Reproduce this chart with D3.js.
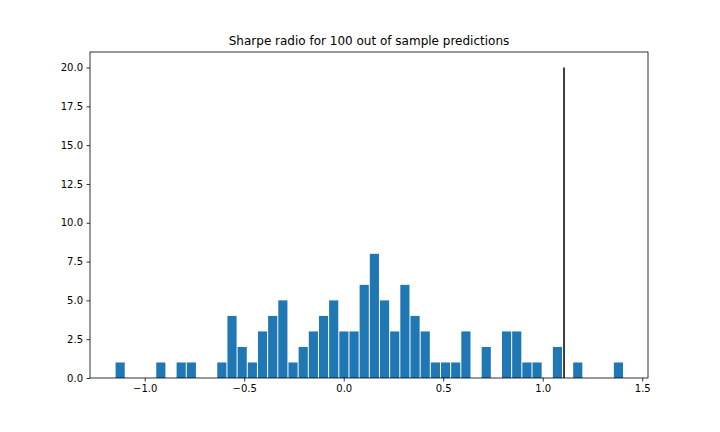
<!DOCTYPE html>
<html>
<head>
<meta charset="utf-8">
<script src="https://cdn.jsdelivr.net/npm/d3@7"></script>
<style>
  body { margin: 0; background: #fff; }
  text { font-family: "DejaVu Sans", sans-serif; fill: #000; }
</style>
</head>
<body>
<svg width="720" height="432"></svg>
<script>
// histogram of 100 sharpe ratios, 50 bins
var binStart = -1.149;
var binEnd = 1.406;
var counts = [1, 0, 0, 0, 1, 0, 1, 1, 0, 0,
              1, 4, 2, 1, 3, 4, 5, 1, 2, 3,
              4, 5, 3, 3, 6, 8, 5, 3, 6, 4,
              3, 1, 1, 1, 3, 0, 2, 0, 3, 3,
              1, 1, 0, 2, 0, 1, 0, 0, 0, 1];
var markerValue = 1.107;
var markerHeight = 20;
var xTicks = [-1.0, -0.5, 0.0, 0.5, 1.0, 1.5];
var yTicks = [0, 2.5, 5, 7.5, 10, 12.5, 15, 17.5, 20];
var title = "Sharpe radio for 100 out of sample predictions";

var svg = d3.select("svg"),
  margin = { top: 52, right: 72, bottom: 54, left: 90 },
  width = 720 - margin.left - margin.right,
  height = 432 - margin.top - margin.bottom,
  g = svg.append("g").attr("transform", "translate(" + margin.left + "," + margin.top + ")");

var x = d3.scaleLinear().domain([-1.275, 1.529]).range([0, width]);
var y = d3.scaleLinear().domain([0, 21]).range([height, 0]);

var binWidth = (binEnd - binStart) / counts.length;
var rwidth = 0.9;

// bars
g.selectAll("rect.bar")
  .data(counts)
  .enter().append("rect")
  .attr("class", "bar")
  .attr("x", function(d, i) { return x(binStart + (i + (1 - rwidth) / 2) * binWidth); })
  .attr("width", x(binStart + rwidth * binWidth) - x(binStart))
  .attr("y", function(d) { return y(d); })
  .attr("height", function(d) { return y(0) - y(d); })
  .attr("fill", "#1f77b4");

// vertical marker line
g.append("line")
  .attr("x1", x(markerValue)).attr("x2", x(markerValue))
  .attr("y1", y(0)).attr("y2", y(markerHeight))
  .attr("stroke", "#000")
  .attr("stroke-width", 1.5);

// axes
var xAxis = g.append("g")
  .attr("transform", "translate(0," + height + ")")
  .call(d3.axisBottom(x).tickValues(xTicks).tickSize(3.5).tickPadding(3.5)
    .tickFormat(function(d) { return d3.format(".1f")(d).replace("-", "\u2212"); }));
var yAxis = g.append("g")
  .call(d3.axisLeft(y).tickValues(yTicks).tickSize(3.5).tickPadding(3.5).tickFormat(d3.format(".1f")));

[xAxis, yAxis].forEach(function(a) {
  a.select(".domain").remove();
  a.selectAll("line").attr("stroke", "#000").attr("stroke-width", 0.8);
  a.selectAll("text").style("font-size", "10px").attr("fill", "#000");
});

// frame
g.append("rect")
  .attr("width", width).attr("height", height)
  .attr("fill", "none")
  .attr("stroke", "#000")
  .attr("stroke-width", 0.8);

g.append("text")
  .attr("x", width / 2)
  .attr("y", -7)
  .attr("text-anchor", "middle")
  .style("font-size", "12px")
  .text(title);
</script>
</body>
</html>
